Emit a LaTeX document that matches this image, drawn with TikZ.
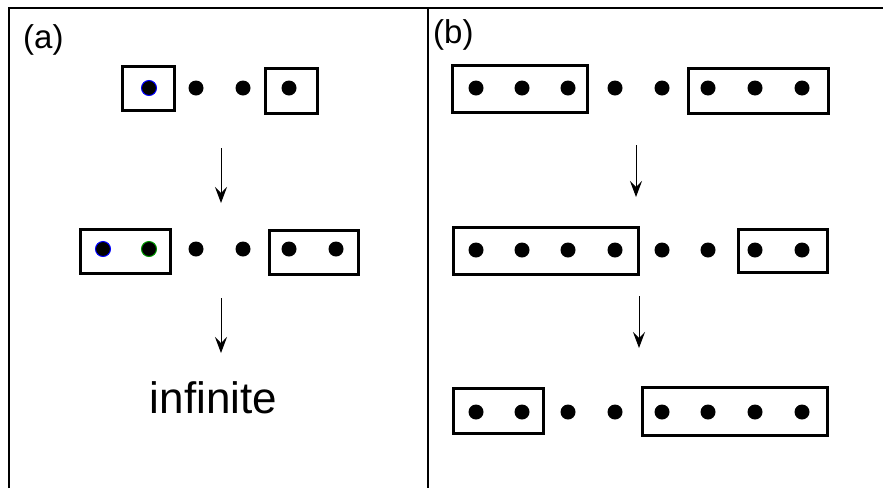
\documentclass[tikz,border=0pt]{standalone}
\usepackage{fontspec}
\setmainfont{Liberation Sans}
\usetikzlibrary{arrows.meta}

\tikzset{
  dot/.style = {circle, fill = black, inner sep = 0pt, minimum size = 15pt},
  box/.style = {line width = 3pt},
  step arrow/.style = {line width = 1pt, -{Stealth[length = 16pt, width = 12pt, inset = 6pt]}}
}

\begin{document}
\begin{tikzpicture}[x = 1pt, y = -1pt]
\useasboundingbox (0,0) rectangle (883,488);
% frame and panel divider
\draw [line width = 2pt] (9,488) -- (9,8) -- (883,8);
\draw [line width = 2pt] (428,8) -- (428,488);
\node[anchor = base west, inner sep = 0pt, font = \fontsize{33}{36}\selectfont] (la) at (23,48) {(a)};
\node[anchor = base west, inner sep = 0pt, font = \fontsize{33}{36}\selectfont] (lb) at (433,43) {(b)};

% panel (a)
\draw [box] (122,66) rectangle (174,110);
\draw [box] (265,68) rectangle (317,113);
\node[dot, draw = blue, line width = 1pt] (a1) at (149,88) {};
\node[dot] (a2) at (196,88) {};
\node[dot] (a3) at (243,88) {};
\node[dot] (a4) at (289,88) {};

\draw [box] (80,229) rectangle (170,273);
\draw [box] (269,230) rectangle (358,274);
\node[dot, draw = blue, line width = 1pt] (b1) at (103,249) {};
\node[dot, draw = green!60!black, line width = 1pt] (b2) at (149,249) {};
\foreach \i/\x in {3/196, 4/243, 5/289, 6/336}
  \node[dot] (b\i) at (\x,249) {};

\coordinate (s1) at (221,148);
\coordinate (t1) at (221,203);
\coordinate (s2) at (221,298);
\coordinate (t2) at (221,353);
\draw [step arrow] (s1) -- (t1);
\draw [step arrow] (s2) -- (t2);
\node[anchor = base, inner sep = 0pt, font = \fontsize{44}{48}\selectfont] (inf) at (213.5,413) {infinite};

% panel (b)
\foreach \i/\x in {1/476, 2/522, 3/568, 4/615, 5/662, 6/708, 7/755, 8/802} {
  \node[dot] (c\i) at (\x,88) {};
  \node[dot] (d\i) at (\x,250) {};
  \node[dot] (e\i) at (\x,412) {};
}
\draw [box] (452,65) rectangle (587,112);
\draw [box] (688,68) rectangle (828,113);
\draw [box] (453,227) rectangle (638,274);
\draw [box] (738,229) rectangle (827,272);
\draw [box] (453,388) rectangle (543,433);
\draw [box] (642,387) rectangle (827,435);

\coordinate (s3) at (636,145);
\coordinate (t3) at (636,197);
\coordinate (s4) at (639,296);
\coordinate (t4) at (639,348);
\draw [step arrow] (s3) -- (t3);
\draw [step arrow] (s4) -- (t4);
\end{tikzpicture}
\end{document}
